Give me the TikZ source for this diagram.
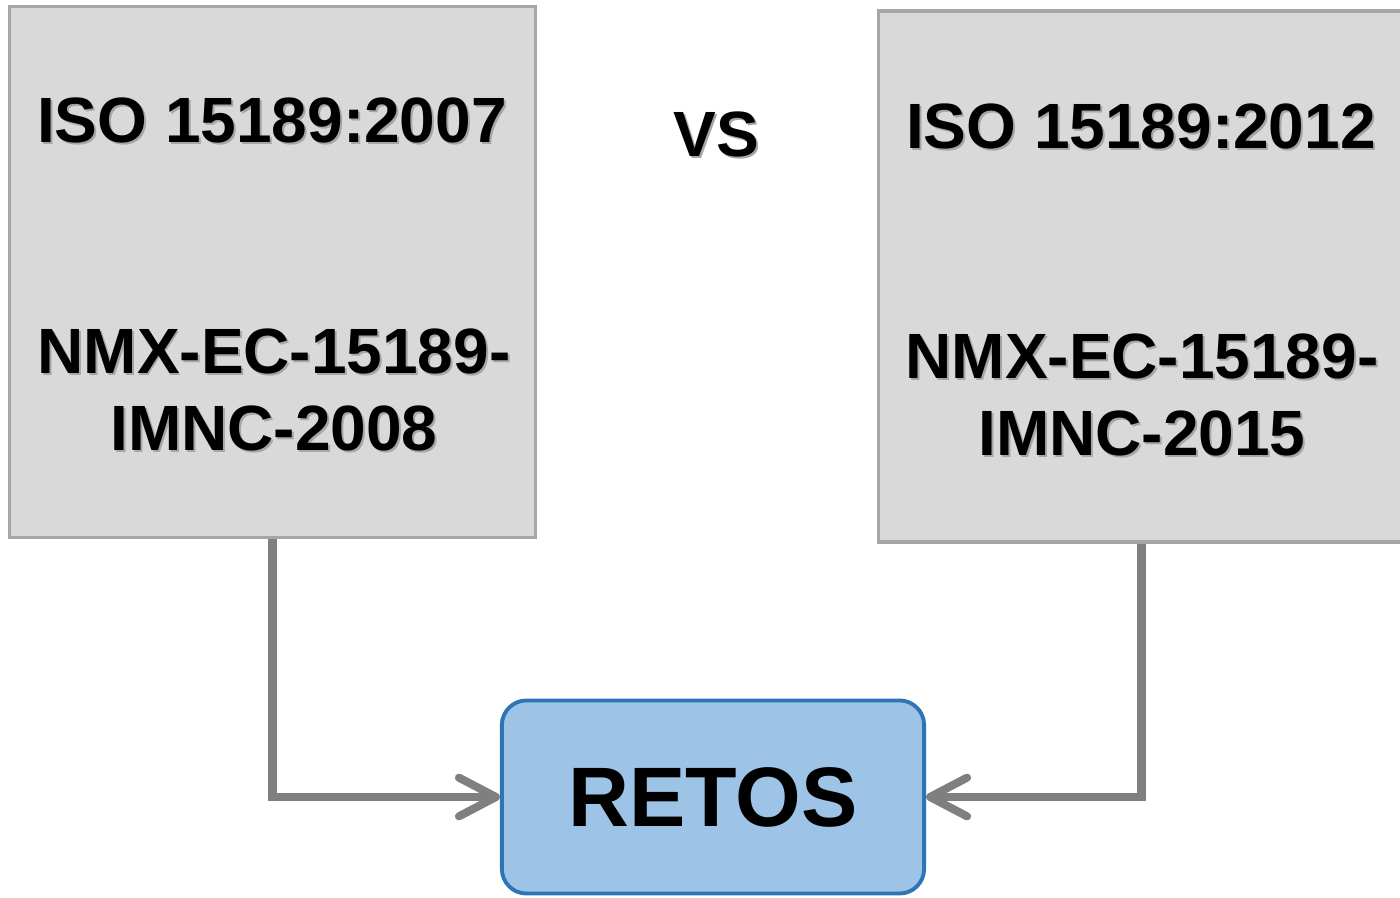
\documentclass[tikz,border=0pt]{standalone}
\usepackage{fontspec}
\setmainfont{Liberation Sans}
\usetikzlibrary{arrows.meta}
\definecolor{cajagris}{HTML}{D9D9D9}
\definecolor{bordegris}{HTML}{A6A6A6}
\definecolor{flechagris}{HTML}{7F7F7F}
\definecolor{retoazul}{HTML}{9DC3E6}
\definecolor{retoborde}{HTML}{2E75B6}
\tikzstyle{norma}=[rectangle,fill=cajagris,draw=bordegris,line width=1pt,minimum width=5.26cm,minimum height=5.31cm,inner sep=0pt]
\tikzstyle{reto}=[rectangle,rounded corners=7pt,fill=retoazul,draw=retoborde,line width=1.1pt,minimum width=4.22cm,minimum height=1.93cm,font=\fontsize{24}{28}\selectfont\bfseries]
\tikzstyle{etiqueta}=[font=\fontsize{18.2}{22}\selectfont\bfseries,align=center,inner sep=0pt]
\tikzstyle{sombra}=[etiqueta,text=black!35,shift={(2,2)}]
\tikzstyle{flecha}=[draw=flechagris,line width=2.3pt,-{Straight Barb[length=10.5pt,width=11pt,round]}]

\begin{document}
\begin{tikzpicture}[x=0.01cm,y=-0.01cm]

    \clip (0,0) rectangle (1400,898);

    % boxes
    \node[norma] (caja2007) at (272.5,272) {};
    \node[norma] (caja2012) at (1141.5,276.5) {};
    \node[reto] (retos) at (713,797) {RETOS};

    % texts with shadow
    \foreach \pos/\name/\texto in {(272,143)/iso07/{ISO 15189:2007},(1141,149)/iso12/{ISO 15189:2012},(716,157)/vs/{VS}}
        \node[sombra,anchor=base] at \pos {\texto};
    \foreach \pos/\name/\texto in {(272,143)/iso07/{ISO 15189:2007},(1141,149)/iso12/{ISO 15189:2012},(716,157)/vs/{VS}}
        \node[etiqueta,anchor=base] (\name) at \pos {\texto};

    \foreach \pos/\name/\texto in {(274,390)/nmx08/{NMX-EC-15189-\\IMNC-2008},(1142,395)/nmx15/{NMX-EC-15189-\\IMNC-2015}}
        \node[sombra] at \pos {\texto};
    \foreach \pos/\name/\texto in {(274,390)/nmx08/{NMX-EC-15189-\\IMNC-2008},(1142,395)/nmx15/{NMX-EC-15189-\\IMNC-2015}}
        \node[etiqueta] (\name) at \pos {\texto};

    % connectors
    \foreach \source in {caja2007,caja2012}
        \draw[flecha] (\source.south) |- (retos);

\end{tikzpicture}
\end{document}
